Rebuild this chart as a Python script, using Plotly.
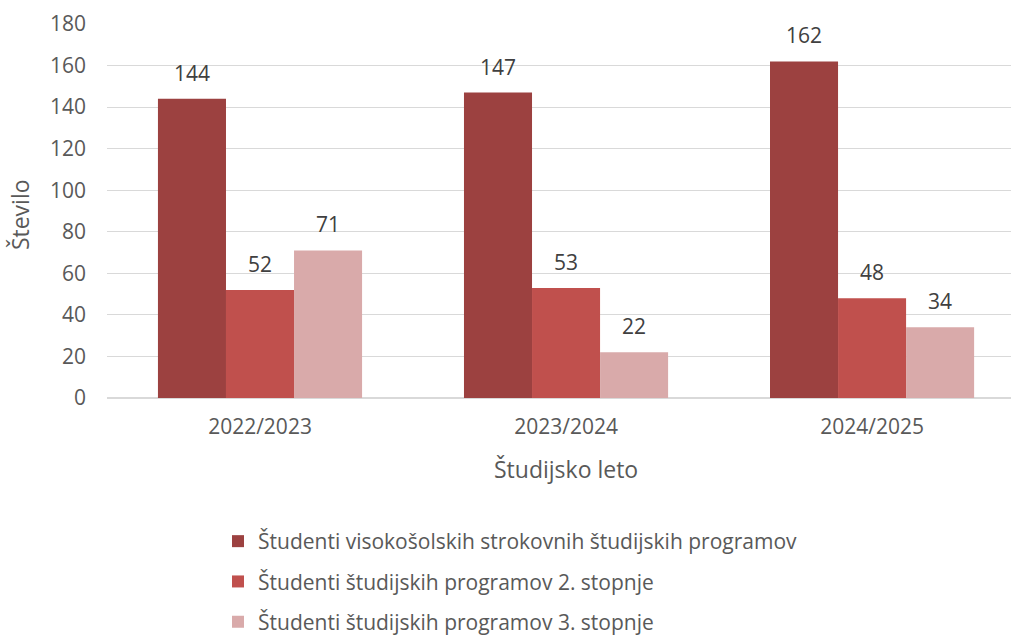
import plotly.graph_objects as go

categories = ["2022/2023", "2023/2024", "2024/2025"]
series_names = [
    "Študenti visokošolskih strokovnih študijskih programov",
    "Študenti študijskih programov 2. stopnje",
    "Študenti študijskih programov 3. stopnje",
]
vs_values = [144, 147, 162]
second_values = [52, 53, 48]
third_values = [71, 22, 34]
y_ticks = [0, 20, 40, 60, 80, 100, 120, 140, 160, 180]

colors = ["#9C4140", "#C0504D", "#D9AAAA"]
FONT = "Open Sans"
TXT = "#595959"
FS = 21

# plot geometry (pixels) used for label offsets
L, R, T, B = 107, 0, 24, 242
X_RANGE = [-0.5, 2.454]
BARGAP = 0.333
cat_px = (1011 - L - R) / (X_RANGE[1] - X_RANGE[0])
bar_px = cat_px * (1 - BARGAP) / 3

fig = go.Figure()
annotations = []
all_series = [vs_values, second_values, third_values]
for i, (name, vals) in enumerate(zip(series_names, all_series)):
    fig.add_trace(go.Bar(
        x=categories, y=vals, name=name,
        marker=dict(color=colors[i], line=dict(width=0)),
        legendgroup=f"g{i}", hoverinfo="x+y+name",
    ))
    for c, v in zip(categories, vals):
        annotations.append(dict(
            text=str(v), x=c, y=v, xref="x", yref="y",
            xanchor="center", yanchor="bottom", showarrow=False,
            xshift=(i - 1) * bar_px, yshift=10,
            font=dict(family=FONT, size=FS, color="#404040"),
        ))

annotations.append(dict(
    text="Študijsko leto", xref="x", yref="paper", x=1, y=-0.142,
    xanchor="center", yanchor="top", showarrow=False,
    font=dict(family=FONT, size=23, color=TXT),
))
annotations.append(dict(
    text="Število", xref="paper", yref="paper", x=(20 - L) / (1011 - L - R), y=0.489,
    xanchor="center", yanchor="middle", showarrow=False, textangle=-90,
    font=dict(family=FONT, size=23, color=TXT),
))

fig.update_layout(
    width=1011, height=640,
    margin=dict(l=L, r=R, t=T, b=B, autoexpand=False),
    paper_bgcolor="white", plot_bgcolor="white",
    barmode="group", bargap=BARGAP, bargroupgap=0,
    font=dict(family=FONT, size=FS, color=TXT),
    showlegend=True,
    legend=dict(
        xref="container", yref="container", x=218 / 1011, y=1 - 521 / 640,
        xanchor="left", yanchor="top", orientation="v",
        tracegroupgap=10, font=dict(family=FONT, size=FS, color=TXT),
        bgcolor="rgba(0,0,0,0)", itemclick=False,
    ),
    xaxis=dict(
        type="category", range=X_RANGE,
        showgrid=False, showline=False, ticks="", tickangle=0,
        ticklabelstandoff=14,
        tickfont=dict(family=FONT, size=FS, color=TXT),
    ),
    yaxis=dict(
        range=[0, 180], tickvals=y_ticks, showgrid=True,
        gridcolor="#D9D9D9", gridwidth=1, zeroline=True, zerolinecolor="#D9D9D9",
        showline=False, ticks="", ticklabelstandoff=20,
        tickfont=dict(family=FONT, size=FS, color=TXT),
    ),
    annotations=annotations,
)

fig.write_html(
    "out.html",
    config={"displayModeBar": False},
    post_script="document.body.style.margin='0';document.body.style.overflow='hidden';",
)
